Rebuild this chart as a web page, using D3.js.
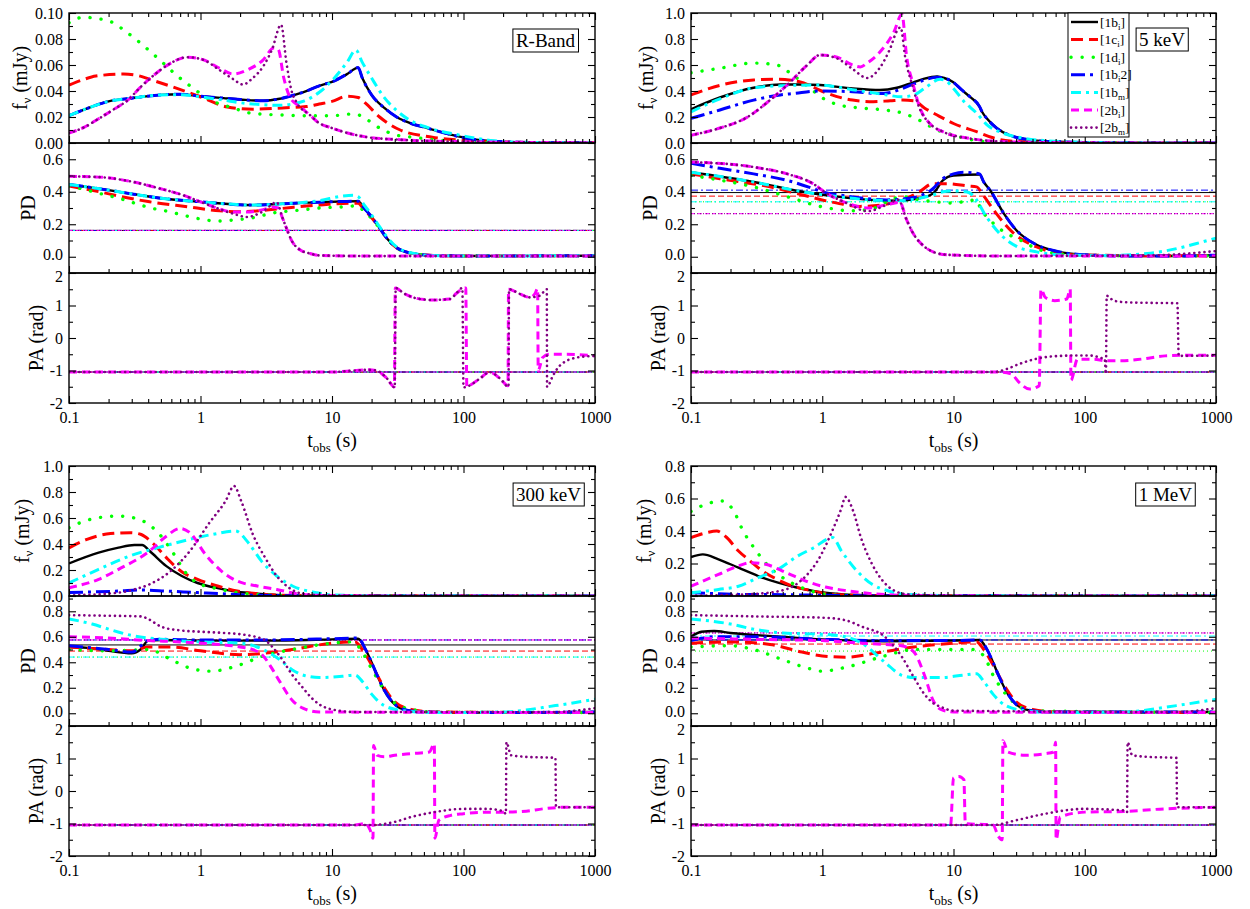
<!DOCTYPE html>
<html><head><meta charset="utf-8">
<script src="https://cdn.jsdelivr.net/npm/d3@7"></script>
<style>body{margin:0;background:#fff}svg{font-family:"Liberation Serif","Times New Roman",serif}</style>
</head><body><svg id="c" width="1250" height="909"></svg>
<script>
// ---------- DATA ----------
const seriesKeys = ["1bi","1ci","1di","1bi2","1bm","2bi","2bm"];
const seriesLabels = [["1b","i",""],["1c","i",""],["1d","i",""],["1b","i","2"],["1b","m",""],["2b","i",""],["2b","m",""]];
const timeTicks = [0.1,1,10,100,1000];
const timeTickLabels = ["0.1","1","10","100","1000"];
const bandNames = ["R-Band","5 keV","300 keV","1 MeV"];
const paOrdered = -1.047;

// R-Band
const fluxR = [
 [[0.1,0.021],[0.15,0.028],[0.2,0.032],[0.3,0.0345],[0.5,0.037],[0.7,0.0375],[1,0.036],[1.5,0.0345],[2,0.0335],[3,0.0325],[4,0.034],[5,0.0365],[6,0.039],[8,0.044],[10,0.047],[13,0.053],[15.8,0.058],[17,0.05],[20,0.037],[25,0.027],[31,0.02],[40,0.015],[53,0.0115],[83,0.006],[125,0.0025],[200,0.001],[400,0.0003],[1000,0.0001]],
 [[0.1,0.0445],[0.13,0.049],[0.16,0.0515],[0.26,0.053],[0.33,0.052],[0.41,0.049],[0.62,0.043],[0.8,0.039],[1.05,0.0346],[1.6,0.0277],[2.5,0.026],[4.2,0.027],[6.4,0.028],[8,0.03],[10,0.032],[13,0.036],[15.8,0.035],[17.8,0.031],[23,0.02],[33,0.01],[58,0.0045],[100,0.002],[200,0.0007],[1000,0.0001]],
 [[0.1,0.0925],[0.128,0.0967],[0.205,0.0935],[0.276,0.085],[0.43,0.069],[0.52,0.0615],[0.66,0.052],[0.83,0.044],[1.25,0.032],[1.77,0.027],[2.4,0.023],[4.2,0.0215],[6,0.021],[10,0.021],[14.2,0.0223],[15.5,0.022],[17.8,0.019],[23,0.0115],[31,0.006],[41,0.0045],[55,0.003],[106,0.001],[300,0.0003],[1000,0.0001]],
 [[0.1,0.021],[0.15,0.028],[0.2,0.032],[0.3,0.0345],[0.5,0.037],[0.7,0.0375],[1,0.036],[1.5,0.0345],[2,0.0335],[3,0.0325],[4,0.034],[5,0.0365],[6,0.039],[8,0.044],[10,0.047],[13,0.053],[15.8,0.058],[17,0.05],[20,0.037],[25,0.027],[31,0.02],[40,0.015],[53,0.0115],[83,0.006],[125,0.0025],[200,0.001],[400,0.0003],[1000,0.0001]],
 [[0.1,0.021],[0.15,0.028],[0.2,0.032],[0.3,0.0345],[0.5,0.037],[0.7,0.0372],[1,0.0355],[1.5,0.033],[2,0.031],[3,0.0295],[4,0.029],[5,0.03],[6,0.032],[8,0.039],[10,0.048],[13,0.062],[15.2,0.0715],[17,0.062],[20,0.05],[24.5,0.036],[31,0.025],[40,0.017],[53,0.012],[94,0.006],[160,0.002],[300,0.0005],[1000,0.0001]],
 [[0.1,0.0077],[0.13,0.012],[0.17,0.019],[0.22,0.026],[0.28,0.033],[0.35,0.043],[0.44,0.052],[0.59,0.0613],[0.79,0.066],[1.05,0.064],[1.4,0.0575],[1.78,0.053],[2.25,0.056],[3,0.064],[3.6,0.073],[3.9,0.072],[4.3,0.05],[4.8,0.035],[5.7,0.028],[6.8,0.0215],[7.8,0.016],[10,0.0115],[18,0.0047],[33,0.0025],[100,0.001],[1000,0.0002]],
 [[0.1,0.0077],[0.13,0.012],[0.17,0.019],[0.22,0.026],[0.28,0.033],[0.35,0.043],[0.44,0.052],[0.59,0.0613],[0.79,0.066],[1.05,0.064],[1.4,0.056],[1.78,0.049],[2.1,0.045],[2.5,0.05],[3,0.059],[3.5,0.072],[4.1,0.091],[4.5,0.062],[4.9,0.041],[5.4,0.031],[6.8,0.0215],[7.8,0.016],[10,0.0115],[18,0.0047],[33,0.0025],[100,0.001],[1000,0.0002]]
];
const pdR = [
 [[0.1,0.445],[0.2,0.41],[0.31,0.385],[0.5,0.36],[1,0.338],[2.5,0.318],[4.2,0.326],[8,0.336],[12,0.34],[15.8,0.342],[17.5,0.3],[19.5,0.257],[23,0.177],[26,0.116],[31,0.055],[39,0.024],[58,0.008],[100,0.005],[1000,0.006]],
 [[0.1,0.435],[0.17,0.4],[0.25,0.37],[0.41,0.338],[0.79,0.308],[1.4,0.283],[2,0.277],[3.2,0.287],[5.1,0.305],[8.1,0.318],[13.7,0.33],[15.8,0.33],[17.5,0.29],[19.5,0.25],[23,0.177],[26,0.116],[31,0.055],[39,0.024],[58,0.008],[100,0.005],[1000,0.006]],
 [[0.1,0.437],[0.137,0.41],[0.18,0.385],[0.24,0.36],[0.31,0.332],[0.41,0.302],[0.58,0.277],[0.79,0.25],[1,0.232],[1.33,0.22],[1.77,0.226],[2.5,0.24],[3.6,0.27],[5.7,0.287],[8,0.3],[13.7,0.31],[15.5,0.315],[17.5,0.28],[19.5,0.245],[23,0.175],[26,0.116],[31,0.055],[39,0.024],[58,0.008],[100,0.005],[1000,0.006]],
 [[0.1,0.445],[0.2,0.41],[0.31,0.385],[0.5,0.36],[1,0.338],[2.5,0.318],[4.2,0.326],[8,0.336],[12,0.34],[15.8,0.342],[17.5,0.3],[19.5,0.257],[23,0.177],[26,0.116],[31,0.055],[39,0.024],[58,0.008],[100,0.005],[1000,0.006]],
 [[0.1,0.445],[0.2,0.41],[0.31,0.385],[0.5,0.36],[1,0.338],[2.5,0.318],[4.2,0.326],[8,0.345],[12,0.373],[14.5,0.378],[15.8,0.37],[17.5,0.32],[19.5,0.27],[23,0.185],[26,0.125],[31,0.06],[39,0.026],[58,0.008],[100,0.005],[1000,0.006]],
 [[0.1,0.495],[0.17,0.49],[0.31,0.46],[0.49,0.42],[0.7,0.385],[1,0.338],[1.33,0.3],[1.77,0.275],[2.25,0.275],[3,0.29],[3.6,0.305],[3.9,0.3],[4.2,0.24],[4.5,0.177],[4.9,0.104],[5.7,0.043],[6.8,0.02],[8,0.008],[20,0.004],[1000,0.004]],
 [[0.1,0.495],[0.17,0.49],[0.31,0.46],[0.49,0.42],[0.7,0.385],[1,0.338],[1.33,0.3],[1.77,0.265],[2.25,0.245],[3,0.28],[3.8,0.335],[4.2,0.24],[4.5,0.177],[4.9,0.104],[5.7,0.043],[6.8,0.02],[8,0.008],[20,0.004],[1000,0.004]]
];
const paR = [null,null,null,null,null,
 [[0.1,-1.047],[10,-1.047],[15,-1.0],[18.5,-0.98],[21.7,-1.0],[26,-1.23],[29.8,-1.5],[30.3,1.54],[35,1.38],[44,1.22],[58,1.17],[79,1.2],[88,1.37],[104,1.54],[106,-1.5],[110,-1.47],[133,-1.25],[158,-1.05],[190,-1.25],[218,-1.47],[220,1.5],[270,1.35],[320,1.25],[350,1.37],[366,1.52],[370,-1.0],[400,-0.6],[450,-0.5],[600,-0.5],[1000,-0.55]],
 [[0.1,-1.047],[10,-1.047],[15,-1.0],[18.5,-0.98],[21.7,-1.0],[26,-1.23],[30,-1.52],[30.5,1.54],[35,1.38],[44,1.22],[58,1.17],[79,1.2],[88,1.37],[98,1.54],[100,-1.52],[110,-1.47],[133,-1.25],[158,-1.05],[190,-1.25],[220,-1.5],[222,1.5],[270,1.35],[320,1.25],[380,1.3],[430,1.5],[432,-1.5],[480,-1.15],[540,-0.85],[730,-0.6],[1000,-0.55]]
];
const levR = [0.162,0.162,0.162,0.162,0.162,0.162,0.162];

// 5 keV
const flux5 = [
 [[0.1,0.26],[0.166,0.35],[0.3,0.425],[0.48,0.45],[0.7,0.45],[0.96,0.446],[1.7,0.42],[2.75,0.408],[3.7,0.425],[4.9,0.465],[6,0.495],[7.5,0.512],[8.5,0.5],[9.9,0.47],[11.5,0.41],[13.3,0.356],[15.8,0.28],[16.5,0.24],[17.9,0.19],[21.3,0.115],[26.6,0.06],[35,0.03],[43,0.018],[70,0.008],[100,0.004],[200,0.001],[1000,0.0002]],
 [[0.1,0.37],[0.17,0.446],[0.3,0.485],[0.45,0.49],[0.68,0.47],[0.85,0.43],[1.08,0.384],[1.7,0.33],[2.45,0.318],[3.3,0.325],[4.1,0.33],[5,0.325],[6,0.27],[7.5,0.215],[10,0.15],[15,0.087],[20,0.04],[27,0.015],[50,0.004],[100,0.001],[1000,0.0001]],
 [[0.1,0.54],[0.166,0.575],[0.3,0.615],[0.45,0.6],[0.6,0.52],[0.81,0.42],[1.01,0.345],[1.37,0.29],[1.94,0.27],[2.9,0.255],[4.1,0.23],[5.5,0.175],[7.5,0.1],[10,0.06],[13,0.03],[18,0.01],[30,0.003],[100,0.0005],[1000,0.0001]],
 [[0.1,0.19],[0.166,0.254],[0.3,0.33],[0.48,0.37],[0.6,0.38],[0.96,0.4],[1.7,0.395],[2.75,0.38],[3.5,0.395],[4.1,0.42],[5,0.455],[6,0.485],[7.5,0.505],[8.5,0.498],[9.9,0.47],[11.5,0.41],[13.3,0.356],[15.8,0.28],[16.5,0.24],[17.9,0.19],[21.3,0.115],[26.6,0.06],[35,0.03],[43,0.018],[70,0.008],[100,0.004],[200,0.001],[1000,0.0002]],
 [[0.1,0.24],[0.166,0.34],[0.3,0.425],[0.48,0.44],[0.96,0.446],[1.7,0.41],[3.1,0.37],[4,0.355],[5,0.37],[6,0.42],[7.9,0.49],[8.7,0.48],[10,0.42],[12,0.32],[15,0.23],[18,0.14],[24,0.075],[35,0.035],[50,0.018],[100,0.005],[200,0.001],[1000,0.0002]],
 [[0.1,0.06],[0.166,0.115],[0.27,0.2],[0.4,0.33],[0.54,0.446],[0.77,0.6],[0.96,0.677],[1.3,0.66],[1.7,0.6],[1.95,0.585],[2.2,0.615],[2.75,0.7],[3.5,0.85],[4.05,0.99],[4.4,0.66],[4.9,0.46],[5.5,0.28],[6.6,0.15],[8.3,0.087],[13.3,0.035],[25,0.01],[60,0.003],[200,0.0005],[1000,0.0001]],
 [[0.1,0.06],[0.166,0.115],[0.27,0.2],[0.4,0.33],[0.54,0.446],[0.77,0.6],[0.96,0.677],[1.3,0.65],[1.7,0.57],[2.2,0.5],[2.75,0.58],[3.3,0.73],[3.7,0.86],[3.95,0.89],[4.3,0.65],[4.9,0.43],[5.5,0.27],[6.6,0.15],[8.3,0.087],[13.3,0.035],[25,0.01],[60,0.003],[200,0.0005],[1000,0.0001]]
];
const pd5 = [
 [[0.1,0.52],[0.3,0.46],[0.71,0.4],[1.3,0.37],[2.3,0.35],[3.7,0.345],[5.5,0.36],[7,0.39],[8.3,0.47],[10,0.5],[15.8,0.506],[17,0.46],[19,0.41],[24,0.27],[30,0.165],[43,0.073],[60,0.035],[100,0.012],[200,0.005],[500,0.005],[1000,0.01]],
 [[0.1,0.51],[0.166,0.48],[0.4,0.43],[0.71,0.38],[1.3,0.33],[1.94,0.31],[2.9,0.32],[4.1,0.35],[5.5,0.4],[7,0.45],[9,0.45],[13,0.435],[15,0.43],[16.8,0.38],[21,0.27],[28.5,0.147],[43,0.06],[60,0.025],[100,0.01],[1000,0.005]],
 [[0.1,0.5],[0.17,0.47],[0.3,0.43],[0.54,0.37],[0.96,0.31],[1.7,0.283],[2.5,0.3],[3.3,0.35],[4.1,0.37],[5.5,0.35],[8,0.335],[10,0.33],[13,0.345],[15,0.35],[16,0.3],[19,0.226],[24,0.155],[32,0.104],[43,0.05],[60,0.02],[100,0.008],[1000,0.005]],
 [[0.1,0.575],[0.166,0.544],[0.3,0.51],[0.54,0.47],[0.85,0.42],[1,0.4],[1.5,0.375],[3.1,0.35],[5,0.365],[7,0.42],[8.3,0.48],[10,0.51],[12,0.52],[15.8,0.51],[17,0.46],[19,0.41],[24,0.27],[30,0.165],[43,0.073],[60,0.035],[100,0.012],[200,0.005],[500,0.005],[1000,0.01]],
 [[0.1,0.52],[0.3,0.46],[0.71,0.4],[1.3,0.37],[2.3,0.35],[3.7,0.345],[5.5,0.36],[7,0.38],[8.3,0.4],[10,0.405],[12.5,0.4],[14,0.38],[18,0.24],[24,0.12],[30,0.065],[43,0.03],[70,0.01],[150,0.008],[300,0.02],[500,0.05],[700,0.08],[1000,0.115]],
 [[0.1,0.583],[0.3,0.552],[0.54,0.51],[0.85,0.45],[1.08,0.39],[1.54,0.33],[2.2,0.3],[3.1,0.32],[3.9,0.335],[4.4,0.226],[4.9,0.147],[5.8,0.073],[7,0.03],[9,0.012],[20,0.005],[1000,0.005]],
 [[0.1,0.583],[0.3,0.552],[0.54,0.51],[0.85,0.45],[1.08,0.39],[1.54,0.33],[2.2,0.28],[3.1,0.32],[3.8,0.35],[4.4,0.226],[4.9,0.147],[5.8,0.073],[7,0.03],[9,0.012],[20,0.005],[300,0.008],[1000,0.035]]
];
const pa5 = [null,null,null,null,null,
 [[0.1,-1.047],[20,-1.047],[22.4,-1.05],[27.4,-1.1],[31.5,-1.36],[38,-1.57],[45,-1.47],[46.4,1.5],[50,1.25],[59,1.15],[73,1.2],[77.5,1.5],[78.5,-1.3],[88,-0.65],[117,-0.65],[145,-0.7],[190,-0.7],[270,-0.65],[410,-0.55],[660,-0.53],[1000,-0.53]],
 [[0.1,-1.047],[20,-1.047],[25.6,-0.95],[31.6,-0.8],[41.8,-0.65],[59,-0.56],[83,-0.54],[110,-0.54],[135,-0.62],[142,-0.65],[145,-1.1],[147,1.3],[166,1.15],[205,1.1],[330,1.08],[508,1.07],[520,-0.55],[1000,-0.54]]
];
const lev5 = [0.395,0.373,0.338,0.41,0.338,0.265,0.265];

// 300 keV
const flux300 = [
 [[0.1,0.25],[0.168,0.333],[0.238,0.372],[0.314,0.392],[0.36,0.392],[0.41,0.346],[0.55,0.23],[0.72,0.154],[0.95,0.1],[1.35,0.06],[1.9,0.033],[2.7,0.018],[3.8,0.008],[6,0.003],[15,0.001],[1000,0.0001]],
 [[0.1,0.37],[0.137,0.436],[0.207,0.48],[0.293,0.487],[0.35,0.475],[0.44,0.4],[0.55,0.295],[0.72,0.187],[0.95,0.128],[1.35,0.077],[1.9,0.038],[2.7,0.018],[4,0.007],[8,0.002],[1000,0.0001]],
 [[0.1,0.525],[0.146,0.59],[0.238,0.615],[0.314,0.6],[0.386,0.564],[0.476,0.487],[0.63,0.32],[0.77,0.18],[0.95,0.1],[1.35,0.056],[1.9,0.026],[2.7,0.013],[5,0.005],[10,0.002],[1000,0.0001]],
 [[0.1,0.026],[0.24,0.038],[0.36,0.046],[0.55,0.038],[0.95,0.026],[1.45,0.018],[2.2,0.008],[4,0.003],[10,0.001],[1000,0.0001]],
 [[0.1,0.1],[0.168,0.205],[0.293,0.31],[0.476,0.372],[0.83,0.436],[1.25,0.475],[1.84,0.5],[2.35,0.4],[2.9,0.27],[3.8,0.154],[5,0.077],[7.6,0.026],[10,0.008],[20,0.002],[1000,0.0001]],
 [[0.1,0.064],[0.168,0.128],[0.238,0.205],[0.41,0.346],[0.55,0.46],[0.7,0.52],[0.83,0.487],[1.09,0.32],[1.45,0.19],[1.9,0.115],[2.7,0.077],[3.8,0.05],[5.4,0.018],[8,0.005],[20,0.001],[1000,0.0001]],
 [[0.1,0.005],[0.24,0.026],[0.31,0.05],[0.41,0.09],[0.59,0.19],[0.83,0.346],[1.17,0.564],[1.55,0.73],[1.8,0.846],[2.04,0.73],[2.5,0.475],[3.1,0.295],[3.8,0.154],[4.7,0.064],[6,0.018],[10,0.004],[1000,0.0001]]
];
const pd300 = [
 [[0.1,0.52],[0.15,0.51],[0.2,0.49],[0.3,0.47],[0.35,0.5],[0.4,0.57],[0.5,0.575],[1,0.57],[3,0.57],[10,0.58],[15.8,0.585],[18,0.5],[20,0.4],[22,0.3],[25,0.18],[30,0.07],[35,0.03],[50,0.01],[100,0.005],[1000,0.01]],
 [[0.1,0.52],[0.2,0.5],[0.3,0.49],[0.4,0.52],[0.6,0.52],[1,0.49],[2,0.46],[3,0.47],[5,0.5],[10,0.55],[15,0.56],[17,0.5],[20,0.38],[25,0.2],[30,0.09],[40,0.03],[60,0.01],[1000,0.005]],
 [[0.1,0.5],[0.2,0.49],[0.4,0.5],[0.6,0.42],[0.8,0.36],[1.2,0.33],[2,0.38],[3,0.45],[5,0.5],[10,0.55],[14,0.56],[16,0.52],[20,0.35],[25,0.18],[30,0.08],[40,0.03],[60,0.01],[1000,0.005]],
 [[0.1,0.53],[0.2,0.5],[0.3,0.48],[0.4,0.57],[0.5,0.58],[1,0.575],[3,0.575],[10,0.585],[15.8,0.59],[18,0.5],[20,0.4],[22,0.3],[25,0.18],[30,0.07],[35,0.03],[50,0.01],[100,0.005],[1000,0.01]],
 [[0.1,0.74],[0.15,0.7],[0.2,0.66],[0.3,0.61],[0.5,0.58],[1,0.56],[2,0.55],[3,0.5],[4,0.42],[5,0.34],[6,0.3],[8,0.28],[12,0.29],[15,0.3],[17,0.25],[20,0.15],[25,0.06],[35,0.02],[60,0.005],[200,0.01],[500,0.06],[1000,0.11]],
 [[0.1,0.6],[0.2,0.59],[0.4,0.57],[0.7,0.56],[1,0.55],[2,0.52],[2.5,0.5],[3,0.45],[3.5,0.35],[4,0.25],[5,0.1],[6,0.04],[8,0.01],[1000,0.005]],
 [[0.1,0.77],[0.2,0.765],[0.35,0.76],[0.4,0.74],[0.5,0.68],[0.7,0.65],[1,0.64],[1.5,0.63],[2,0.62],[3,0.58],[4,0.45],[5,0.3],[6,0.2],[7,0.12],[8,0.07],[10,0.03],[15,0.01],[500,0.01],[1000,0.04]]
];
const pa300 = [null,null,null,null,null,
 [[0.1,-1.047],[15,-1.047],[18,-1.0],[19.5,-1.2],[20.5,-1.45],[20.7,1.4],[22,1.1],[25,1.05],[30,1.1],[40,1.15],[55,1.2],[60,1.45],[60.6,-1.45],[65,-0.9],[80,-0.75],[100,-0.7],[150,-0.65],[200,-0.65],[300,-0.62],[400,-0.55],[600,-0.5],[1000,-0.5]],
 [[0.1,-1.047],[20,-1.047],[30,-0.95],[40,-0.8],[60,-0.65],[100,-0.55],[150,-0.55],[200,-0.62],[210,-0.7],[212,1.5],[230,1.1],[300,1.05],[500,1.02],[505,-0.5],[1000,-0.5]]
];
const lev300 = [0.536,0.488,0.441,0.575,0.441,0.575,0.575];

// 1 MeV
const flux1M = [
 [[0.1,0.24],[0.123,0.256],[0.162,0.226],[0.23,0.174],[0.325,0.123],[0.46,0.082],[0.65,0.051],[0.92,0.027],[1.3,0.014],[1.8,0.006],[4,0.002],[1000,0.0001]],
 [[0.1,0.36],[0.132,0.39],[0.157,0.4],[0.187,0.36],[0.23,0.277],[0.283,0.215],[0.35,0.154],[0.46,0.1],[0.6,0.06],[0.8,0.035],[1.1,0.014],[1.6,0.006],[4,0.001],[1000,0.0001]],
 [[0.1,0.52],[0.13,0.565],[0.174,0.585],[0.215,0.513],[0.246,0.41],[0.3,0.3],[0.4,0.174],[0.53,0.1],[0.7,0.051],[0.92,0.02],[1.3,0.006],[3,0.001],[1000,0.0001]],
 [[0.1,0.02],[0.162,0.014],[0.23,0.01],[0.5,0.008],[1,0.005],[2,0.002],[1000,0.0001]],
 [[0.1,0.02],[0.162,0.04],[0.23,0.06],[0.325,0.113],[0.46,0.164],[0.65,0.246],[0.86,0.297],[1.13,0.355],[1.2,0.36],[1.4,0.277],[1.84,0.154],[2.4,0.072],[3.2,0.031],[4.5,0.01],[10,0.002],[1000,0.0001]],
 [[0.1,0.06],[0.162,0.133],[0.23,0.185],[0.283,0.205],[0.37,0.195],[0.53,0.144],[0.75,0.092],[1.06,0.055],[1.6,0.031],[2.4,0.014],[3.5,0.006],[8,0.001],[1000,0.0001]],
 [[0.1,0.002],[0.32,0.014],[0.53,0.041],[0.75,0.123],[0.92,0.215],[1.22,0.42],[1.4,0.54],[1.5,0.61],[1.72,0.523],[1.97,0.36],[2.4,0.195],[2.9,0.092],[3.4,0.041],[4.5,0.01],[10,0.002],[1000,0.0001]]
];
const pd1M = [
 [[0.1,0.6],[0.12,0.64],[0.15,0.645],[0.2,0.63],[0.5,0.6],[1,0.58],[3,0.565],[10,0.57],[15.8,0.575],[18,0.5],[20,0.4],[22,0.3],[25,0.18],[30,0.07],[35,0.03],[50,0.01],[1000,0.01]],
 [[0.1,0.55],[0.2,0.56],[0.4,0.54],[0.7,0.48],[1,0.45],[1.5,0.44],[2.5,0.47],[5,0.52],[10,0.55],[15,0.56],[17,0.5],[20,0.38],[25,0.2],[30,0.09],[40,0.03],[60,0.01],[1000,0.005]],
 [[0.1,0.52],[0.2,0.53],[0.3,0.5],[0.5,0.42],[0.8,0.35],[1,0.33],[1.5,0.36],[3,0.45],[5,0.5],[10,0.5],[14,0.5],[17,0.45],[20,0.3],[25,0.15],[30,0.07],[40,0.02],[1000,0.005]],
 [[0.1,0.57],[0.15,0.6],[0.3,0.6],[1,0.58],[3,0.57],[10,0.57],[15.8,0.575],[18,0.5],[20,0.4],[22,0.3],[25,0.18],[30,0.07],[35,0.03],[50,0.01],[1000,0.01]],
 [[0.1,0.74],[0.2,0.7],[0.3,0.66],[0.5,0.63],[1,0.62],[1.5,0.6],[2,0.55],[3,0.4],[4,0.3],[5,0.28],[8,0.28],[12,0.3],[15,0.31],[17,0.25],[20,0.15],[25,0.06],[35,0.02],[60,0.005],[200,0.01],[500,0.06],[1000,0.11]],
 [[0.1,0.59],[0.3,0.58],[1,0.57],[2,0.55],[3,0.54],[4,0.53],[5,0.48],[6,0.3],[7,0.1],[8,0.03],[10,0.01],[1000,0.005]],
 [[0.1,0.77],[0.3,0.76],[1,0.75],[1.5,0.73],[2,0.68],[3,0.6],[4,0.45],[5,0.28],[6,0.15],[7,0.08],[8,0.05],[10,0.02],[500,0.01],[1000,0.04]]
];
const pa1M = [null,null,null,null,null,
 [[0.1,-1.047],[9.5,-1.047],[10,0.4],[11,0.45],[12,0.35],[12.3,-1.0],[20,-1.047],[22,-1.4],[23.5,-1.5],[23.8,1.55],[26,1.2],[35,1.1],[50,1.15],[58,1.2],[60,1.5],[60.5,-1.5],[65,-0.8],[100,-0.65],[200,-0.63],[400,-0.55],[1000,-0.5]],
 [[0.1,-1.047],[20,-1.047],[30,-0.9],[50,-0.7],[100,-0.55],[200,-0.6],[210,-0.65],[212,1.5],[230,1.1],[300,1.05],[500,1.02],[505,-0.5],[1000,-0.5]]
];
const lev1M = [0.575,0.543,0.488,0.575,0.606,0.63,0.63];

// ---------- STYLES / LAYOUT ----------
const styles = [
 {color:"#000000", w:2.4, dash:null, cap:"butt"},
 {color:"#ff0000", w:3, dash:"12,6", cap:"butt"},
 {color:"#00ff00", w:3.4, dash:"0.1,11", cap:"round"},
 {color:"#0000ff", w:3, dash:"14,5,3,5", cap:"butt"},
 {color:"#00ffff", w:3, dash:"10,5,3,5", cap:"butt"},
 {color:"#ff00ff", w:3, dash:"8,5", cap:"butt"},
 {color:"#800080", w:2.6, dash:"0.1,5", cap:"round"}
];
const thinDash = [null,"6,3","1,3","7,3,2,3","6,3,2,3","4,3","1,2"];
const cols = [[69,595],[691,1216]];
const rowsY = [13,466];
const H = 130;
const FONT = "Liberation Serif, Times New Roman, serif";

const cfg = [
 {name:bandNames[0], c:0, r:0, flux:fluxR, pd:pdR, pa:paR, lev:levR, fMax:0.1, fStep:0.02, fDec:2, pdMax:0.7, boxR:578, boxT:29, fOff:42},
 {name:bandNames[1], c:1, r:0, flux:flux5, pd:pd5, pa:pa5, lev:lev5, fMax:1.0, fStep:0.2, fDec:1, pdMax:0.7, boxR:1188, boxT:28, fOff:38, legend:true},
 {name:bandNames[2], c:0, r:1, flux:flux300, pd:pd300, pa:pa300, lev:lev300, fMax:1.0, fStep:0.2, fDec:1, pdMax:0.92, boxR:584, boxT:483, fOff:40},
 {name:bandNames[3], c:1, r:1, flux:flux1M, pd:pd1M, pa:pa1M, lev:lev1M, fMax:0.8, fStep:0.2, fDec:1, pdMax:0.92, boxR:1195, boxT:483, fOff:40}
];

const svg = d3.select("#c");
let clipId = 0;

function rng(a,b,s){const out=[];for(let v=a;v<=b+1e-9;v+=s)out.push(+v.toFixed(6));return out;}
const minorX = [];
[0.1,1,10,100].forEach(d=>{for(let k=2;k<=9;k++)minorX.push(+(d*k).toFixed(6));});

function styleAxis(sel){
  sel.select(".domain").remove();
  sel.attr("font-family",FONT).attr("font-size",16);
  sel.selectAll("line").attr("stroke","#000").attr("stroke-width",1.1);
  sel.selectAll("text").attr("fill","#000");
}

function frame(g,x,y,majors,minors,fmt,opts){
  const [x0,x1]=x.range(); const [yb,yt]=y.range();
  const la = g.append("g").attr("transform",`translate(${x0},0)`)
    .call(d3.axisLeft(y).tickValues(majors).tickSize(-7).tickPadding(6).tickFormat(fmt)).call(styleAxis);
  // small nudges of the labels that sit at a shared panel boundary
  if(opts.nudge) la.selectAll(".tick text").attr("dy",d=>opts.nudge(d));
  g.append("g").attr("transform",`translate(${x0},0)`)
    .call(d3.axisLeft(y).tickValues(minors).tickSize(-4).tickFormat("")).call(styleAxis);
  g.append("g").attr("transform",`translate(${x1},0)`)
    .call(d3.axisRight(y).tickValues(majors).tickSize(-7).tickFormat("")).call(styleAxis);
  g.append("g").attr("transform",`translate(${x1},0)`)
    .call(d3.axisRight(y).tickValues(minors).tickSize(-4).tickFormat("")).call(styleAxis);
  const bx = d3.axisBottom(x).tickValues(timeTicks).tickSize(-7).tickPadding(9)
     .tickFormat(opts.xLabels ? ((d,i)=>timeTickLabels[i]) : "");
  g.append("g").attr("transform",`translate(0,${yb})`).call(bx).call(styleAxis);
  g.append("g").attr("transform",`translate(0,${yb})`)
    .call(d3.axisBottom(x).tickValues(minorX).tickSize(-4).tickFormat("")).call(styleAxis);
  if(opts.top){
    g.append("g").attr("transform",`translate(0,${yt})`)
      .call(d3.axisTop(x).tickValues(timeTicks).tickSize(-7).tickFormat("")).call(styleAxis);
    g.append("g").attr("transform",`translate(0,${yt})`)
      .call(d3.axisTop(x).tickValues(minorX).tickSize(-4).tickFormat("")).call(styleAxis);
  }
}

function drawCurves(g,x,y,data,levels){
  const [x0,x1]=x.range(); const [yb,yt]=y.range();
  const id = "clip"+(clipId++);
  g.append("clipPath").attr("id",id).append("rect").attr("x",x0).attr("y",yt).attr("width",x1-x0).attr("height",yb-yt);
  const cg = g.append("g").attr("clip-path",`url(#${id})`);
  const line = d3.line().x(d=>x(d[0])).y(d=>y(d[1])).curve(d3.curveMonotoneX);
  if(levels){
    levels.forEach((lv,i)=>{
      const st=styles[i];
      cg.append("line").attr("x1",x0).attr("x2",x1).attr("y1",y(lv)).attr("y2",y(lv))
        .attr("stroke",st.color).attr("stroke-width",1).attr("stroke-dasharray",thinDash[i]);
    });
  }
  data.forEach((ser,i)=>{
    if(!ser) return;
    const st=styles[i];
    cg.append("path").attr("d",line(ser)).attr("fill","none")
      .attr("stroke",st.color).attr("stroke-width",st.w)
      .attr("stroke-dasharray",st.dash).attr("stroke-linecap",st.cap).attr("stroke-linejoin","round");
  });
}

function yTitle(g,xp,yp,parts){
  const t=g.append("text").attr("transform",`translate(${xp},${yp}) rotate(-90)`)
    .attr("text-anchor","middle").attr("font-family",FONT).attr("font-size",20);
  parts.forEach(p=>{
    const s=t.append("tspan").text(p[0]);
    if(p[1]==="sub") s.attr("font-size",13).attr("dy",4);
    if(p[1]==="up") s.attr("dy",-4);
  });
}

cfg.forEach(b=>{
  const g = svg.append("g");
  const x = d3.scaleLog().domain([0.1,1000]).range(cols[b.c]);
  const y0 = rowsY[b.r];
  const yF = d3.scaleLinear().domain([0,b.fMax]).range([y0+H,y0]);
  const yP = d3.scaleLinear().domain([-0.1,b.pdMax]).range([y0+2*H,y0+H]);
  const yA = d3.scaleLinear().domain([-2,2]).range([y0+3*H,y0+2*H]);

  drawCurves(g,x,yF,b.flux,null);
  drawCurves(g,x,yP,b.pd,b.lev);
  drawCurves(g,x,yA,b.pa,seriesKeys.map(()=>paOrdered));

  const fmtF = d=>d.toFixed(b.fDec);
  frame(g,x,yF,rng(0,b.fMax,b.fStep),rng(b.fStep/2,b.fMax,b.fStep),fmtF,{top:true});
  frame(g,x,yP,rng(0,b.pdMax-0.05,0.2),rng(0.1,b.pdMax-0.01,0.2),d=>d.toFixed(1),
        {nudge:d=>d===0?"0.18em":"0.32em"});
  frame(g,x,yA,[-2,-1,0,1,2],[-1.5,-0.5,0.5,1.5],d=>String(d),{xLabels:true,
        nudge:d=>d===2?"0.5em":"0.32em"});

  const [xa,xb]=x.range();
  [yF,yP,yA].forEach(yy=>{
    const [bt,tp]=yy.range();
    g.append("rect").attr("x",xa).attr("y",tp).attr("width",xb-xa).attr("height",bt-tp)
      .attr("fill","none").attr("stroke","#000").attr("stroke-width",1.4);
  });

  yTitle(g,xa-b.fOff,y0+H/2,[["f"],["ν","sub"],[" (mJy)","up"]]);
  yTitle(g,xa-34,y0+1.5*H,[["PD"]]);
  yTitle(g,xa-26,y0+2.5*H,[["PA (rad)"]]);
  const xt = g.append("text").attr("x",(xa+xb)/2).attr("y",y0+3*H+44).attr("text-anchor","middle")
    .attr("font-family",FONT).attr("font-size",20);
  xt.append("tspan").text("t");
  xt.append("tspan").text("obs").attr("font-size",13).attr("dy",5);
  xt.append("tspan").text(" (s)").attr("dy",-5);

  const boxG = g.append("g");
  const br = boxG.append("rect");
  const bt = boxG.append("text").attr("x",b.boxR-3).attr("y",b.boxT+18).attr("text-anchor","end")
    .attr("font-family",FONT).attr("font-size",19).text(b.name);
  const bb = bt.node().getBBox();
  br.attr("x",bb.x-3).attr("y",b.boxT).attr("width",bb.width+6).attr("height",23)
    .attr("fill","#fff").attr("stroke","#000").attr("stroke-width",1);

  if(b.legend){
    const lx=1068, ly=y0, lw=61, lh=124;
    const lg = g.append("g");
    lg.append("rect").attr("x",lx).attr("y",ly).attr("width",lw).attr("height",lh)
      .attr("fill","#fff").attr("stroke","#000").attr("stroke-width",1);
    seriesLabels.forEach((lab,i)=>{
      const yy = ly+9+i*17.6;
      const st=styles[i];
      lg.append("line").attr("x1",lx+3).attr("x2",lx+30).attr("y1",yy).attr("y2",yy)
        .attr("stroke",st.color).attr("stroke-width",st.w).attr("stroke-dasharray",st.dash).attr("stroke-linecap",st.cap);
      const t=lg.append("text").attr("x",lx+32).attr("y",yy+4.5).attr("font-family",FONT).attr("font-size",13.5);
      t.append("tspan").text("["+lab[0]);
      t.append("tspan").text(lab[1]).attr("font-size",9).attr("dy",3);
      t.append("tspan").text(lab[2]+"]").attr("dy",-3);
    });
  }
});
</script></body></html>
